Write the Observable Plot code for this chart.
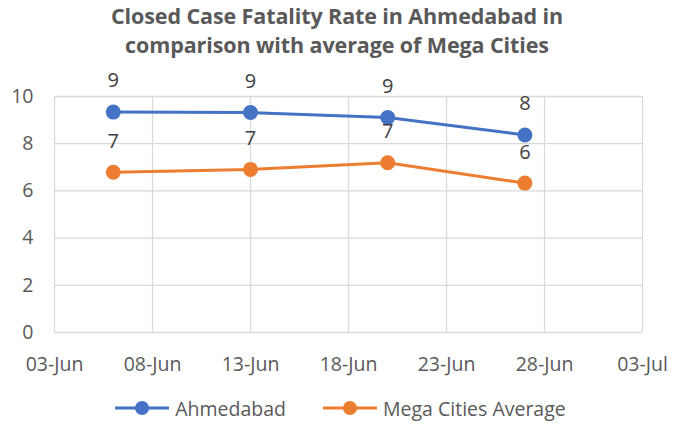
<!DOCTYPE html>
<html>
<head>
<meta charset="utf-8">
<script src="https://cdn.jsdelivr.net/npm/d3@7"></script>
<script src="https://cdn.jsdelivr.net/npm/@observablehq/plot@0.6"></script>
<style>
  body { margin: 0; background: #fff; font-family: "Open Sans", sans-serif; }
  #title { height: 66px; text-align: center; font-weight: bold; color: #595959; font-size: 21.5px; line-height: 29px; padding-top: 1px; box-sizing: border-box; letter-spacing: -0.1px; }
  #legend { height: 44px; display: flex; justify-content: center; align-items: center; gap: 36px; color: #595959; font-size: 19.5px; padding-left: 6px; box-sizing: border-box; }
  .item { display: flex; align-items: center; gap: 5px; }
</style>
</head>
<body>
<div id="title">Closed Case Fatality Rate in Ahmedabad in<br>comparison with average of Mega Cities</div>
<div id="chart"></div>
<div id="legend"></div>
<script>
const dates = ["2020-06-06", "2020-06-13", "2020-06-20", "2020-06-27"];
const ahmedabad = [9.34, 9.32, 9.11, 8.37];
const megaCities = [6.79, 6.91, 7.19, 6.33];
const seriesNames = ["Ahmedabad", "Mega Cities Average"];
const colors = ["#4472C4", "#ED7D31"];
const xTicks = ["2020-06-03", "2020-06-08", "2020-06-13", "2020-06-18", "2020-06-23", "2020-06-28", "2020-07-03"];
const yTicks = [0, 2, 4, 6, 8, 10];

const rows = [];
dates.forEach((d, i) => {
  rows.push({date: new Date(d), value: ahmedabad[i], series: seriesNames[0]});
  rows.push({date: new Date(d), value: megaCities[i], series: seriesNames[1]});
});
const xt = xTicks.map(d => new Date(d));

const plot = Plot.plot({
  width: 674,
  height: 320,
  marginLeft: 54,
  marginRight: 32,
  marginTop: 30,
  marginBottom: 54,
  style: {fontFamily: "Open Sans, sans-serif", fontSize: "19.5px", color: "#595959", background: "#fff", overflow: "visible"},
  x: {type: "utc", domain: [xt[0], xt[xt.length - 1]], ticks: xt, tickFormat: d3.utcFormat("%d-%b"), label: null},
  y: {domain: [0, 10], ticks: yTicks, label: null},
  color: {domain: seriesNames, range: colors},
  marks: [
    Plot.gridX(xt, {stroke: "#d9d9d9", strokeOpacity: 1, strokeWidth: 1.3}),
    Plot.gridY(yTicks, {stroke: "#d9d9d9", strokeOpacity: 1, strokeWidth: 1.3}),
    Plot.axisX({ticks: xt, tickSize: 0, tickPadding: 25, tickFormat: d3.utcFormat("%d-%b"), fontSize: 19.5, fill: "#595959"}),
    Plot.axisY({ticks: yTicks, tickSize: 0, tickPadding: 21, fontSize: 19.5, fill: "#595959"}),
    Plot.line(rows, {x: "date", y: "value", z: "series", stroke: "series", strokeWidth: 3}),
    Plot.dot(rows, {x: "date", y: "value", fill: "series", r: 7.5}),
    Plot.text(rows, {x: "date", y: "value", text: d => String(Math.round(d.value)), dy: -31, fill: "#404040", fontSize: 20})
  ]
});
document.getElementById("chart").appendChild(plot);

const legend = document.getElementById("legend");
seriesNames.forEach((name, i) => {
  const item = document.createElement("div");
  item.className = "item";
  item.innerHTML = `<svg width="56" height="16"><line x1="1" y1="8" x2="55" y2="8" stroke="${colors[i]}" stroke-width="3"/><circle cx="28" cy="8" r="7" fill="${colors[i]}"/></svg><span>${name}</span>`;
  legend.appendChild(item);
});
</script>
</body>
</html>
